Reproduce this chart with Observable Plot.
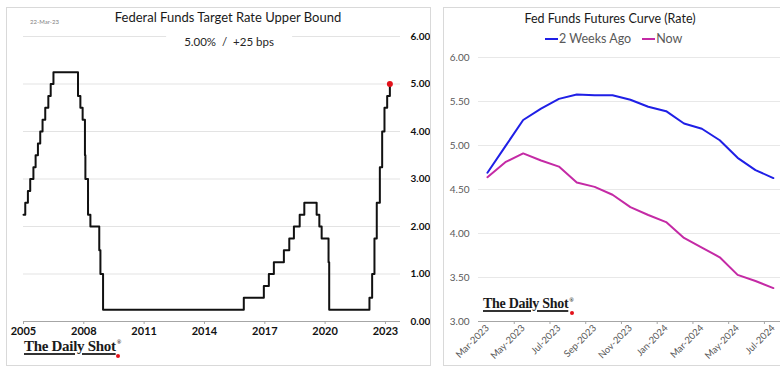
<!DOCTYPE html>
<html><head><meta charset="utf-8">
<script src="https://cdn.jsdelivr.net/npm/d3@7"></script>
<script src="https://cdn.jsdelivr.net/npm/@observablehq/plot@0.6"></script>
<style>
body{margin:0;background:#fff;font-family:Lato,"Open Sans",sans-serif;}
#wrap{position:relative;width:780px;height:372px;overflow:hidden;background:#fff;}
.panel{position:absolute;border:1px solid #d9d9d9;box-sizing:border-box;}
.abs{position:absolute;}
.title{position:absolute;color:#262626;font-size:14px;white-space:nowrap;transform:translateX(-50%);}
.logo{position:absolute;font-family:"Liberation Serif","DejaVu Serif",serif;font-weight:bold;color:#1a1a1a;white-space:nowrap;letter-spacing:-0.3px;}
.logo .u{text-decoration:underline;text-decoration-thickness:1.5px;text-underline-offset:2px;text-decoration-color:#333;}
.logo sup{font-size:6px;vertical-align:top;position:relative;top:1px;margin-left:1px;}
.logo .dot{position:absolute;width:4px;height:4px;border-radius:2px;background:#e3121b;}
.leg{position:absolute;font-size:12.5px;color:#595959;white-space:nowrap;display:flex;align-items:center;}
.sw{display:inline-block;width:13px;height:2px;margin-right:1px;}
</style></head>
<body><div id="wrap">
<div class="panel" style="left:6px;top:7px;width:425px;height:359px"></div>
<div class="panel" style="left:443px;top:7px;width:345px;height:359px"></div>
<div id="left" class="abs" style="left:7px;top:8px"></div>
<div id="right" class="abs" style="left:444px;top:8px"></div>
<div class="abs" style="left:30px;top:18px;font-size:6px;color:#7f7f7f">22-Mar-23</div>
<div class="title" style="left:228px;top:9px;font-size:13px;color:#1a1a1a">Federal Funds Target Rate Upper Bound</div>
<div class="title" style="left:229px;top:35px;font-size:11.5px;background:#fff;padding:0 18px">5.00% &nbsp;/ &nbsp;+25 bps</div>
<div class="title" style="left:610px;top:11px;font-size:12.5px;color:#1a1a1a">Fed Funds Futures Curve (Rate)</div>
<div class="leg" style="left:545px;top:31px"><span class="sw" style="background:#1f1fe6"></span>2 Weeks Ago<span class="sw" style="background:#c42aa5;margin-left:11px"></span>Now</div>
<div class="logo" style="left:24px;top:338px;font-size:15px"><span class="u">The Daily Shot</span><sup>®</sup><span class="dot" style="left:92px;top:16px"></span></div>
<div class="logo" style="left:483px;top:296px;font-size:14px"><span class="u">The Daily Shot</span><sup>®</sup><span class="dot" style="left:87px;top:15px"></span></div>
</div>
<script>
// Left chart: Federal Funds Target Rate Upper Bound (effective change dates)
const rateDates = ["2005-01-01","2005-02-02","2005-03-22","2005-05-03","2005-06-30","2005-08-09","2005-09-20","2005-11-01","2005-12-13","2006-01-31","2006-03-28","2006-05-10","2006-06-29","2007-09-18","2007-10-31","2007-12-11","2008-01-22","2008-01-30","2008-03-18","2008-04-30","2008-10-08","2008-10-29","2008-12-16","2015-12-16","2016-12-14","2017-03-15","2017-06-14","2017-12-13","2018-03-21","2018-06-13","2018-09-26","2018-12-19","2019-07-31","2019-09-18","2019-10-30","2020-03-03","2020-03-15","2022-03-16","2022-05-04","2022-06-15","2022-07-27","2022-09-21","2022-11-02","2022-12-14","2023-02-01","2023-03-22"];
const rates = [2.25,2.50,2.75,3.00,3.25,3.50,3.75,4.00,4.25,4.50,4.75,5.00,5.25,4.75,4.50,4.25,3.50,3.00,2.25,2.00,1.50,1.00,0.25,0.50,0.75,1.00,1.25,1.50,1.75,2.00,2.25,2.50,2.25,2.00,1.75,1.25,0.25,0.50,1.00,1.75,2.50,3.25,4.00,4.50,4.75,5.00];
const yearTicks = ["2005","2008","2011","2014","2017","2020","2023"];
const leftYTicks = [0,1,2,3,4,5,6];

// Right chart: Fed Funds Futures Curve
const months = ["Mar-2023","Apr-2023","May-2023","Jun-2023","Jul-2023","Aug-2023","Sep-2023","Oct-2023","Nov-2023","Dec-2023","Jan-2024","Feb-2024","Mar-2024","Apr-2024","May-2024","Jun-2024","Jul-2024"];
const twoWeeksAgo = [4.69,4.99,5.29,5.42,5.53,5.58,5.57,5.57,5.52,5.44,5.39,5.25,5.19,5.06,4.86,4.72,4.63];
const nowCurve = [4.64,4.81,4.91,4.83,4.76,4.58,4.53,4.44,4.30,4.21,4.13,3.95,3.84,3.73,3.53,3.46,3.38];
const rightYTicks = [3,3.5,4,4.5,5,5.5,6];

const fmt = d3.format(".2f");
const rateData = rateDates.map((d,i)=>({date:new Date(d), rate:rates[i]}));
const last = rateData[rateData.length-1];

const left = Plot.plot({
  width:423, height:357,
  marginLeft:16, marginRight:30, marginTop:28, marginBottom:44,
  style:{background:"transparent", fontFamily:"Lato, 'Open Sans', sans-serif", fontWeight:"bold"},
  x:{type:"utc", domain:[new Date("2005-01-01"), new Date("2023-10-01")]},
  y:{domain:[0,6]},
  marks:[
    Plot.ruleY(leftYTicks.slice(1), {stroke:"#e3e3e3", strokeWidth:1}),
    Plot.ruleY([0], {stroke:"#a6a6a6", strokeWidth:1.2}),
    Plot.axisX(yearTicks.map(y=>new Date(y+"-01-01")), {tickSize:3, tickPadding:3, stroke:"#a6a6a6", fill:"#111", fontSize:11, tickFormat:d3.utcFormat("%Y"), label:null}),
    Plot.axisY(leftYTicks, {anchor:"right", tickSize:0, tickPadding:10, fill:"#111", fontSize:10, tickFormat:fmt, label:null, textAnchor:"start"}),
    Plot.line(rateData, {x:"date", y:"rate", curve:"step-after", stroke:"#111", strokeWidth:2}),
    Plot.dot([last], {x:"date", y:"rate", r:3, fill:"#e3121b"})
  ]
});
document.getElementById("left").appendChild(left);

const idx = months.map((m,i)=>i);
const futures = [
  ...idx.map(i=>({i, v:twoWeeksAgo[i], s:"2 Weeks Ago"})),
  ...idx.map(i=>({i, v:nowCurve[i], s:"Now"}))
];
const boundaries = idx.filter(i=>i%2===0).map(i=>i-0.5).filter(b=>b>-0.5);

const right = Plot.plot({
  width:336, height:357,
  marginLeft:34, marginRight:0, marginTop:49, marginBottom:44,
  style:{background:"transparent", fontFamily:"Lato, 'Open Sans', sans-serif"},
  x:{domain:[-0.5,16.4]},
  y:{domain:[3,6]},
  color:{domain:["2 Weeks Ago","Now"], range:["#1f1fe6","#c42aa5"]},
  marks:[
    Plot.ruleY(rightYTicks.slice(1), {stroke:"#e8e8e8", strokeWidth:1}),
    Plot.ruleY([3], {stroke:"#a6a6a6", strokeWidth:1.2}),
    Plot.axisX(boundaries, {tickSize:3, tickFormat:()=>"", stroke:"#a6a6a6", label:null}),
    Plot.axisX(idx.filter(i=>i%2===0), {tickSize:0, tickPadding:5, tickRotate:-45, tickFormat:i=>months[i], fill:"#595959", fontSize:9.5, label:null}),
    Plot.axisY(rightYTicks, {tickSize:0, tickPadding:9, tickFormat:fmt, fill:"#595959", fontSize:10, label:null}),
    Plot.line(futures, {x:"i", y:"v", z:"s", stroke:"s", strokeWidth:2})
  ]
});
document.getElementById("right").appendChild(right);
</script>
</body></html>
